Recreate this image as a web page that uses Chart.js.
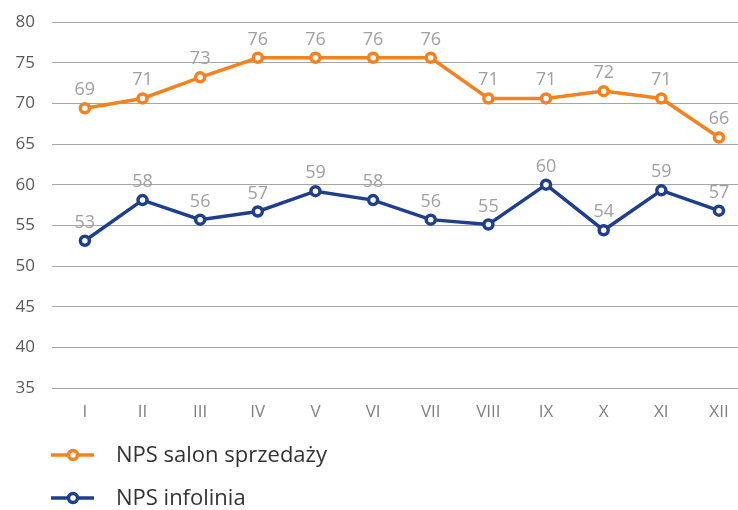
<!DOCTYPE html>
<html><head><meta charset="utf-8">
<script src="https://cdn.jsdelivr.net/npm/chart.js@4/dist/chart.umd.min.js"></script>
<style>html,body{margin:0;padding:0;background:#fff}#wrap{width:738px;height:510px}</style>
</head><body><div id="wrap"><canvas id="c" width="738" height="510"></canvas></div>
<script>
const months = ['I','II','III','IV','V','VI','VII','VIII','IX','X','XI','XII'];
const salonLabel = 'NPS salon sprzedaży';
const salonValues = [69.4, 70.6, 73.2, 75.6, 75.6, 75.6, 75.6, 70.6, 70.6, 71.5, 70.6, 65.8];
const infoLabel = 'NPS infolinia';
const infoValues = [53.1, 58.1, 55.7, 56.7, 59.2, 58.1, 55.7, 55.1, 60.0, 54.4, 59.3, 56.8];
const yTicks = [35, 40, 45, 50, 55, 60, 65, 70, 75, 80];

const FONT = "'Open Sans', sans-serif";
const ORANGE = '#F5821F';
const BLUE = '#1F3F8C';

const toPts = arr => arr.map((v, i) => ({x: i + 1, y: v}));

const fullRight = {
  id: 'fullRight',
  afterLayout(chart) {
    const a = chart.chartArea, W = chart.width;
    a.right = W; a.width = W - a.left;
    const xs = chart.scales.x;
    xs.right = W; xs.width = W - xs.left;
    xs.configure();
  }
};

const valueLabels = {
  id: 'valueLabels',
  afterDatasetsDraw(chart) {
    const ctx = chart.ctx;
    ctx.save();
    ctx.font = '18px ' + FONT;
    ctx.fillStyle = '#a0a0a0';
    ctx.textAlign = 'center';
    ctx.textBaseline = 'alphabetic';
    chart.data.datasets.forEach((ds, di) => {
      const meta = chart.getDatasetMeta(di);
      meta.data.forEach((el, i) => {
        ctx.fillText(String(Math.round(ds.data[i].y)), el.x, el.y - 13);
      });
    });
    ctx.restore();
  }
};

const lineLegend = {
  id: 'lineLegend',
  afterDraw(chart) {
    const ctx = chart.ctx;
    const H = chart.height;
    const rows = [H - 55, H - 12];
    ctx.save();
    chart.data.datasets.forEach((ds, di) => {
      const y = rows[di];
      ctx.strokeStyle = ds.borderColor;
      ctx.lineWidth = 3.5;
      ctx.beginPath(); ctx.moveTo(51, y); ctx.lineTo(94, y); ctx.stroke();
      ctx.beginPath(); ctx.arc(73, y, 4.5, 0, Math.PI * 2);
      ctx.fillStyle = '#fff'; ctx.fill();
      ctx.lineWidth = 3.5; ctx.stroke();
      ctx.fillStyle = '#333333';
      ctx.font = '22px ' + FONT;
      ctx.textAlign = 'left';
      ctx.textBaseline = 'middle';
      ctx.fillText(ds.label, 116, y + 1);
    });
    ctx.restore();
  }
};

new Chart(document.getElementById('c'), {
  type: 'line',
  data: {
    datasets: [
      {label: salonLabel, data: toPts(salonValues), borderColor: ORANGE, backgroundColor: '#fff',
       borderWidth: 3.5, pointRadius: 4.5, pointBorderWidth: 3.5, pointBackgroundColor: '#fff', pointBorderColor: ORANGE, tension: 0},
      {label: infoLabel, data: toPts(infoValues), borderColor: BLUE, backgroundColor: '#fff',
       borderWidth: 3.5, pointRadius: 4.5, pointBorderWidth: 3.5, pointBackgroundColor: '#fff', pointBorderColor: BLUE, tension: 0}
    ]
  },
  options: {
    responsive: false,
    animation: false,
    layout: {padding: {top: 22, right: 0, left: 0, bottom: 0}},
    plugins: {legend: {display: false}, tooltip: {enabled: false}},
    scales: {
      x: {
        type: 'linear',
        min: 0.43,
        max: 12.33,
        afterBuildTicks: s => { s.ticks = months.map((m, i) => ({value: i + 1})); },
        afterFit: s => { s.height = 122; s.paddingLeft = 0; s.paddingRight = 0; },
        grid: {display: false, drawTicks: false},
        border: {display: false},
        ticks: {
          autoSkip: false, maxRotation: 0, padding: 14,
          color: '#808080', font: {family: FONT, size: 17},
          callback: v => months[Math.round(v) - 1]
        }
      },
      y: {
        min: 35, max: 80,
        afterBuildTicks: s => { s.ticks = yTicks.map(v => ({value: v})); },
        afterFit: s => { s.width = 52; s.paddingTop = 0; s.paddingBottom = 0; },
        grid: {color: '#a6a6a6', lineWidth: 1, drawTicks: false},
        border: {display: false},
        ticks: {padding: 17, color: '#595959', font: {family: FONT, size: 17}}
      }
    }
  },
  plugins: [fullRight, valueLabels, lineLegend]
});
</script></body></html>
